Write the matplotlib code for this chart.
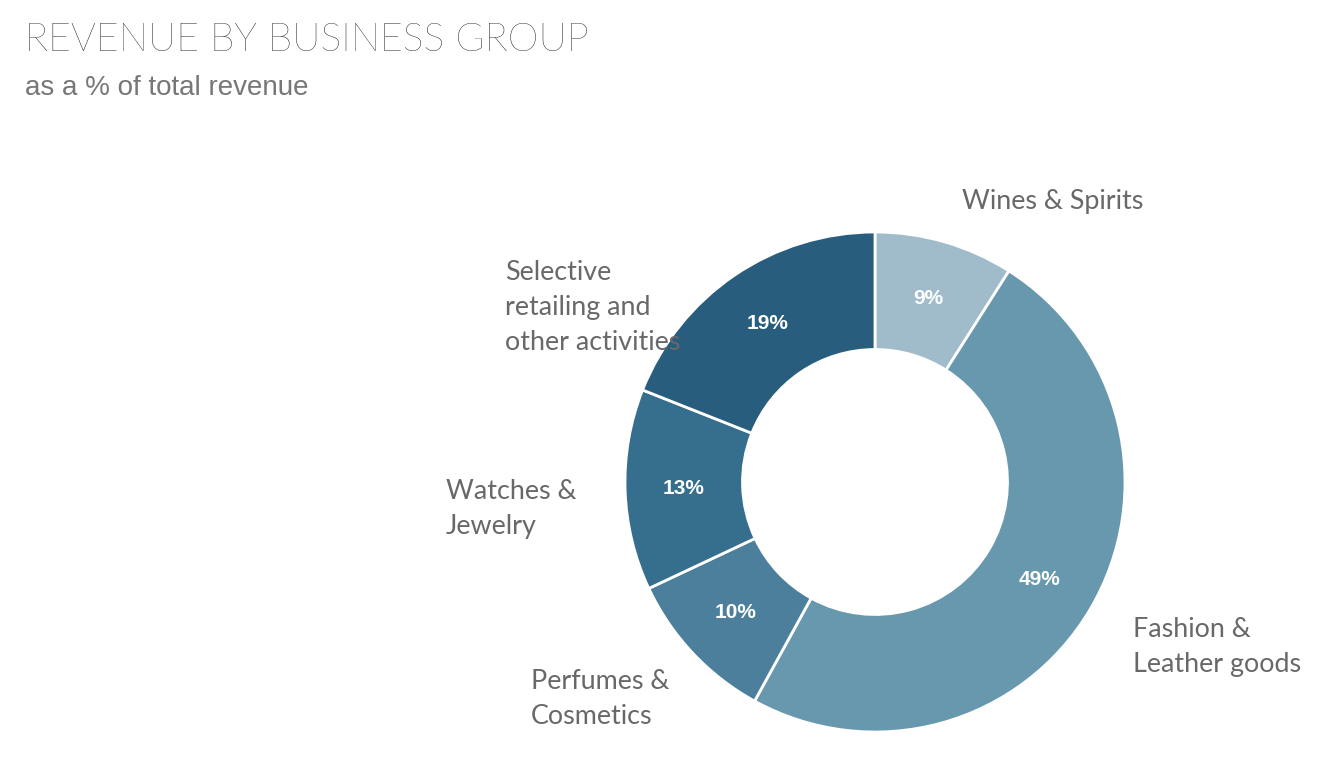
import matplotlib as mpl
mpl.use('agg')
import numpy as np
import matplotlib.pyplot as plt

groups = ["Wines & Spirits", "Fashion & Leather goods", "Perfumes & Cosmetics",
          "Watches & Jewelry", "Selective retailing and other activities"]
shares = [9, 49, 10, 13, 19]
colors = ["#a0bccb", "#6898ae", "#4b7f9b", "#366e8e", "#285d7e"]
# label text as wrapped in the chart
label_text = ["Wines & Spirits", "Fashion &\nLeather goods", "Perfumes &\nCosmetics",
              "Watches &\nJewelry", "Selective\nretailing and\nother activities"]

W, H = 1336, 770
fig = plt.figure(figsize=(W/100, H/100), dpi=100)
ax = fig.add_axes([0, 0, 1, 1])

# pixel layout of the donut
cx, cy, R = 875, H - 482, 250
wedges, texts = ax.pie(shares, colors=colors, startangle=90, counterclock=False,
                       center=(cx, cy), radius=R, frame=True,
                       wedgeprops=dict(width=R*0.47, edgecolor='white', linewidth=2))
ax.set_xlim(0, W)
ax.set_ylim(0, H)
ax.set_aspect('equal')
ax.axis('off')

# percentage labels inside each wedge
for w, s in zip(wedges, shares):
    ang = np.deg2rad((w.theta1 + w.theta2) / 2)
    ax.text(cx + 0.765*R*np.cos(ang), cy + 0.765*R*np.sin(ang), f"{s}%",
            ha='center', va='center', color='white', fontsize=15,
            fontweight='bold', family='Liberation Sans')

# outer category label positions (left edge, centre y in pixels from top)
label_pos = [(962, 201), (1133, 647), (531, 699), (446, 509), (505, 307)]
for t, (x, y) in zip(label_text, label_pos):
    ax.text(x, H - y, t, ha='left', va='center', color='#686868', fontsize=19.4,
            family='Lato', fontweight='normal', linespacing=1.5)

fig.text(25/W, 1 - 40/H, "REVENUE BY BUSINESS GROUP", ha='left', va='center',
         fontsize=28.3, color='#000000', family='Lato', fontweight='light')
fig.text(25/W, 1 - 88/H, "as a % of total revenue", ha='left', va='center',
         fontsize=20, color='#777777', family='Liberation Sans')

plt.savefig("out.png", dpi=100)
